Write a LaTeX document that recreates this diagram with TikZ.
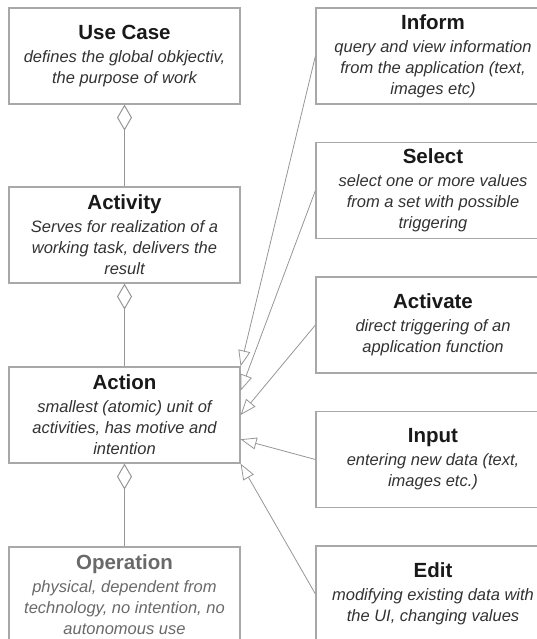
\documentclass[tikz,border=0pt]{standalone}
\usepackage{fontspec}
\setmainfont{Liberation Sans}
\usepackage{tikz}
\usetikzlibrary{arrows.meta, positioning, calc}
\definecolor{BoxLine}{RGB}{168, 168, 168}
\definecolor{LinkGray}{RGB}{150, 150, 150}
\definecolor{TitleInk}{RGB}{25, 25, 25}
\definecolor{NoteInk}{RGB}{50, 50, 50}
\definecolor{FadedInk}{RGB}{105, 105, 105}
\tikzset{
  levelbox/.style={
    draw=BoxLine,
    line width=1.2pt,
    minimum width=231pt,
    minimum height=96pt,
    align=center,
    inner sep=0pt,
    text=NoteInk,
    font=\fontsize{16.5}{21}\selectfont\itshape
  },
  kindbox/.style={levelbox, minimum width=234pt},
  partof/.style={draw=LinkGray, line width=1pt, {Diamond[open, length=26pt, width=15pt]}-},
  isa/.style={draw=LinkGray, line width=0.8pt, -{Triangle[open, length=16pt, width=12pt]}}
}
\newcommand{\boxtitle}[1]{{\fontsize{20.5}{24}\selectfont\bfseries\upshape #1}}

\begin{document}
\begin{tikzpicture}[x=1pt, y=-1pt]
  \clip (0,0) rectangle (537,639);

  \node[levelbox] (usecase) at (124.5,56) {
    \boxtitle{\color{TitleInk}Use Case}\\[2pt]
    defines the global obkjectiv,\\
    the purpose of work
  };
  \node[levelbox] (activity) at (124.5,235) {
    \boxtitle{\color{TitleInk}Activity}\\[2pt]
    Serves for realization of a\\
    working task, delivers the\\
    result
  };
  \node[levelbox] (action) at (124.5,415) {
    \boxtitle{\color{TitleInk}Action}\\[2pt]
    smallest (atomic) unit of\\
    activities, has motive and\\
    intention
  };
  \node[levelbox, text=FadedInk] (operation) at (124.5,595) {
    \boxtitle{Operation}\\[2pt]
    physical, dependent from\\
    technology, no intention, no\\
    autonomous use
  };

  \node[kindbox] (inform) at (433,56) {
    \boxtitle{\color{TitleInk}Inform}\\[2pt]
    query and view information\\
    from the application (text,\\
    images etc)
  };
  \node[kindbox] (select) at (433,190.5) {
    \boxtitle{\color{TitleInk}Select}\\[2pt]
    select one or more values\\
    from a set with possible\\
    triggering
  };
  \node[kindbox] (activate) at (433,325) {
    \boxtitle{\color{TitleInk}Activate}\\[2pt]
    direct triggering of an\\
    application function
  };
  \node[kindbox] (input) at (433,459.5) {
    \boxtitle{\color{TitleInk}Input}\\[2pt]
    entering new data (text,\\
    images etc.)
  };
  \node[kindbox] (edit) at (433,594) {
    \boxtitle{\color{TitleInk}Edit}\\[2pt]
    modifying existing data with\\
    the UI, changing values
  };

  \draw[partof] (usecase.south) -- (activity.north);
  \draw[partof] (activity.south) -- (action.north);
  \draw[partof] (action.south) -- (operation.north);

  \draw[isa] (inform.west) -- (action.north east);
  \draw[isa] (select.west) -- ($(action.north east)!0.25!(action.south east)$);
  \draw[isa] (activate.west) -- (action.east);
  \draw[isa] (input.west) -- ($(action.north east)!0.75!(action.south east)$);
  \draw[isa] (edit.west) -- (action.south east);
\end{tikzpicture}
\end{document}
